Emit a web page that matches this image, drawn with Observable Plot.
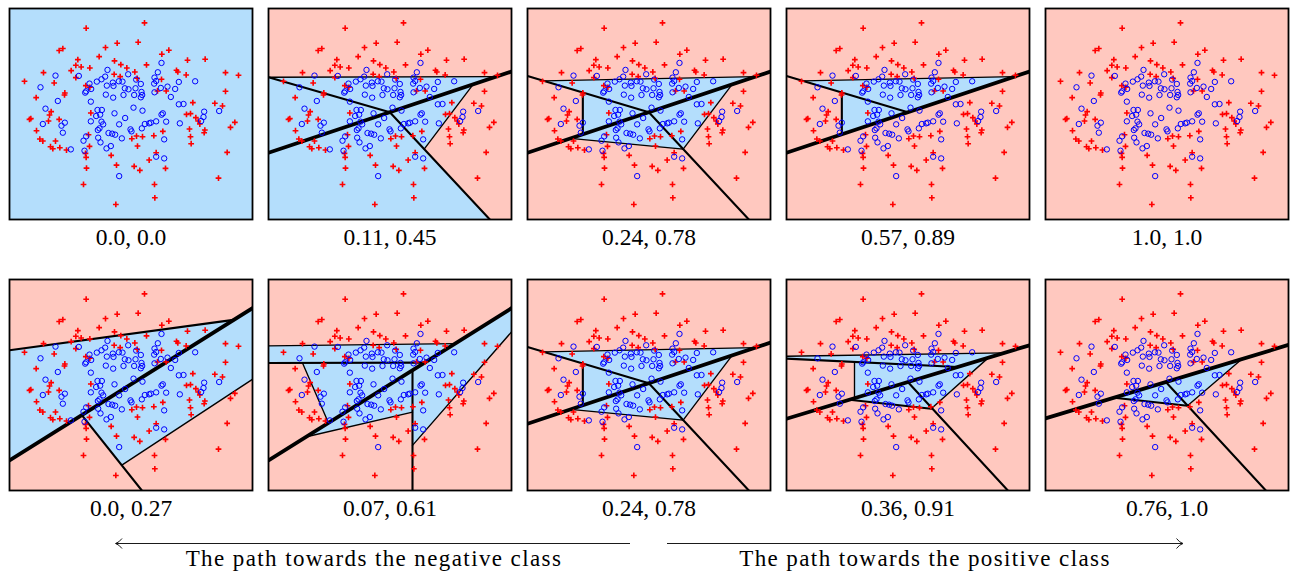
<!DOCTYPE html>
<html><head><meta charset="utf-8">
<script src="https://cdn.jsdelivr.net/npm/d3@7"></script>
<script src="https://cdn.jsdelivr.net/npm/@observablehq/plot@0.6"></script>
<style>
body{margin:0;background:#fff;}
#root{position:relative;width:1290px;height:573px;overflow:hidden;font-family:"Liberation Serif",serif;}
.panel{position:absolute;}
.note{position:absolute;font-size:23px;letter-spacing:1.4px;text-align:center;white-space:nowrap;line-height:1;}
</style></head><body><div id="root"></div>
<script>
// Scatter data (shared by all panels), in panel-local data units (x right, y down)
const redPlus = [
[411,49],[236,65],[392,107],[329,110],[294,123],[484,131],[166,126],[155,132],[463,143],[275,150],
[211,159],[321,163],[593,158],[540,161],[205,176],[221,181],[340,174],[358,184],[417,175],[247,184],
[191,192],[108,198],[382,196],[507,191],[511,196],[320,203],[654,198],[536,205],[205,213],[338,210],
[389,215],[462,218],[51,224],[140,229],[235,237],[247,242],[450,253],[476,253],[654,254],[171,265],
[172,259],[86,273],[622,290],[645,298],[556,288],[250,319],[131,315],[126,325],[537,323],[549,321],
[66,338],[70,336],[123,343],[155,338],[565,333],[572,343],[577,352],[682,347],[669,362],[87,372],
[546,367],[466,374],[592,370],[590,378],[97,397],[144,403],[243,384],[373,396],[387,388],[405,390],
[439,387],[549,390],[551,411],[129,420],[136,426],[157,423],[177,430],[246,419],[234,440],[236,452],
[390,418],[446,438],[659,437],[311,446],[425,460],[327,475],[380,479],[397,491],[237,484],[474,485],
[633,514],[228,533],[441,533],[442,573],[325,593],[693,206],[106,403]
];
const blueCircle = [
[462,169],[300,190],[451,197],[144,207],[214,208],[362,203],[293,210],[282,218],[268,225],[246,231],
[316,228],[318,238],[334,224],[298,237],[386,219],[400,232],[441,213],[446,223],[440,231],[514,226],
[563,224],[99,242],[233,258],[236,254],[251,247],[295,264],[317,273],[352,245],[363,248],[384,245],
[348,265],[380,265],[402,256],[404,265],[400,272],[460,244],[480,240],[503,247],[490,271],[441,257],
[151,283],[250,285],[114,306],[270,310],[283,310],[321,320],[378,303],[405,312],[462,324],[466,320],
[514,293],[528,292],[590,315],[588,331],[581,343],[635,313],[266,328],[278,324],[250,344],[282,345],
[287,353],[106,352],[172,348],[162,357],[335,353],[353,334],[412,352],[425,350],[430,348],[446,344],
[476,345],[517,350],[276,365],[271,370],[369,368],[372,374],[403,365],[236,389],[228,402],[303,379],
[314,381],[323,384],[343,395],[272,393],[279,407],[470,398],[190,428],[231,432],[297,425],[310,418],
[446,450],[470,455],[335,508],[166,378],[345,225]
];

// Panel captions (row 1 then row 2)
const panelLabels = ["0.0, 0.0","0.11, 0.45","0.24, 0.78","0.57, 0.89","1.0, 1.0",
                     "0.0, 0.27","0.07, 0.61","0.24, 0.78","0.36, 0.91","0.76, 1.0"];
// Class of the background region in each panel
const panelBase = ["pos","neg","neg","neg","neg","neg","neg","neg","neg","neg"];

// Positive (blue) regions of each panel: lists of polygon vertices
const regionsP3 = [[[55,223],[690,210],[620,233],[473,427],[135,395],[172,383],[172,258]]];
const panelRegions = [
  [],
  [[[6,212],[690,210],[620,233],[473,427],[670,638],[6,638]]],
  regionsP3,
  [[[55,223],[690,210],[172,383],[172,258]]],
  [],
  [[[6,218],[678,127],[735,92],[735,305],[343,562],[223,412],[6,548]]],
  [[[6,205],[567,198],[475,255],[6,256]],
   [[108,256],[475,255],[186,436]],
   [[120,477],[438,278],[438,403]],
   [[438,278],[735,92],[735,163],[438,503]]],
  regionsP3,
  [[[6,236],[660,226],[520,268],[6,243]],
   [[210,253],[520,268],[210,360]],
   [[195,366],[612,240],[440,393]]],
  [[[212,360],[598,242],[432,384]]]
];

// Split lines of each panel: [x1, y1, x2, y2, depth]  (depth 0 = root split)
const splitsP3 = [[6,438,735,195,0],[6,208,370,317,1],[370,317,670,638,1],[55,223,690,210,2],
                  [620,233,473,427,2],[172,258,172,383,1],[135,395,473,427,2]];
const panelSplits = [
  [],
  [[6,438,735,195,0],[6,212,370,317,1],[370,317,670,638,1],[6,212,690,210,2],[620,233,473,427,2]],
  splitsP3,
  [[6,438,735,195,0],[6,208,370,317,1],[55,223,690,210,2],[172,258,172,383,1]],
  [],
  [[6,548,735,92,0],[6,218,678,127,1],[223,412,403,638,1],[343,562,735,305,2]],
  [[6,548,735,92,0],[6,205,567,198,2],[6,256,475,255,1],[108,256,186,436,2],[438,278,438,638,1],
   [120,477,438,403,2],[438,503,735,163,2]],
  splitsP3,
  [[6,423,735,203,0],[6,236,660,226,2],[6,243,520,268,1],[210,253,210,360,2],[195,366,440,393,1],
   [612,240,440,393,2],[370,313,670,638,1]],
  [[6,422,735,202,0],[367,313,667,638,1],[598,242,432,384,2],[212,360,432,384,1]]
];

const BLUE = "#b4defc", SALMON = "#ffc8bf";
const depthWidth = [3.8, 2.1, 1.35];
const panelLeft = [8.7, 268, 527, 786, 1044.7];
const panelTop = [8, 278.5];

const root = document.getElementById("root");
panelLabels.forEach((label, i) => {
  const regions = panelRegions[i].flatMap((poly, k) => poly.map(([x, y]) => ({x, y, k})));
  const splits = panelSplits[i].map(([x1, y1, x2, y2, d]) => ({x1, y1, x2, y2, d}));
  const svg = Plot.plot({
    width: 247, height: 247,
    marginLeft: 2, marginRight: 2, marginTop: 2, marginBottom: 34,
    x: {domain: [6, 735], axis: null},
    y: {domain: [638, 6], axis: null},
    style: {background: "transparent", overflow: "visible"},
    marks: [
      Plot.frame({fill: panelBase[i] === "pos" ? BLUE : SALMON, stroke: "none"}),
      Plot.line(regions, {x: "x", y: "y", z: "k", fill: BLUE, stroke: "none", curve: "linear-closed", clip: "frame"}),
      Plot.link(splits, {x1: "x1", y1: "y1", x2: "x2", y2: "y2", stroke: "black",
        strokeWidth: d => depthWidth[d.d], strokeLinecap: "round", clip: "frame"}),
      Plot.dot(redPlus, {x: d => d[0], y: d => d[1], symbol: "plus", r: 2.0, stroke: "#ff0000", strokeWidth: 1.6}),
      Plot.dot(blueCircle, {x: d => d[0], y: d => d[1], symbol: "circle", r: 2.7, stroke: "#0000ff", fill: "none", strokeWidth: 1}),
      Plot.frame({stroke: "black", strokeWidth: 1.8}),
      Plot.text([label], {frameAnchor: "bottom", dy: 18, fontSize: 23.5, fontFamily: "Liberation Serif",
        fill: "black", lineAnchor: "middle", style: "letter-spacing:0.6px"})
    ]
  });
  svg.classList.add("panel");
  svg.style.left = (panelLeft[i % 5] - 2) + "px";
  svg.style.top = (panelTop[Math.floor(i / 5)] - 2) + "px";
  root.appendChild(svg);
});

// Bottom annotation: arrows and captions
const ns = "http://www.w3.org/2000/svg";
const ann = document.createElementNS(ns, "svg");
ann.setAttribute("width", 1290); ann.setAttribute("height", 573);
ann.style.position = "absolute"; ann.style.left = "0"; ann.style.top = "0";
ann.innerHTML = `
<line x1="116" y1="543.5" x2="630" y2="543.5" stroke="black" stroke-width="0.9"/>
<path d="M122,538.5 Q119,542.5 115.5,543.5 Q119,544.5 122,548.5" fill="none" stroke="black" stroke-width="0.9"/>
<line x1="667" y1="543.5" x2="1182" y2="543.5" stroke="black" stroke-width="0.9"/>
<path d="M1176.5,538.5 Q1179.5,542.5 1183,543.5 Q1179.5,544.5 1176.5,548.5" fill="none" stroke="black" stroke-width="0.9"/>`;
root.appendChild(ann);
[["The path towards the negative class", 374], ["The path towards the positive class", 925]].forEach(([t, cx]) => {
  const d = document.createElement("div");
  d.className = "note";
  d.textContent = t;
  d.style.left = (cx - 250) + "px";
  d.style.width = "500px";
  d.style.top = "547px";
  root.appendChild(d);
});
</script>
</body></html>
